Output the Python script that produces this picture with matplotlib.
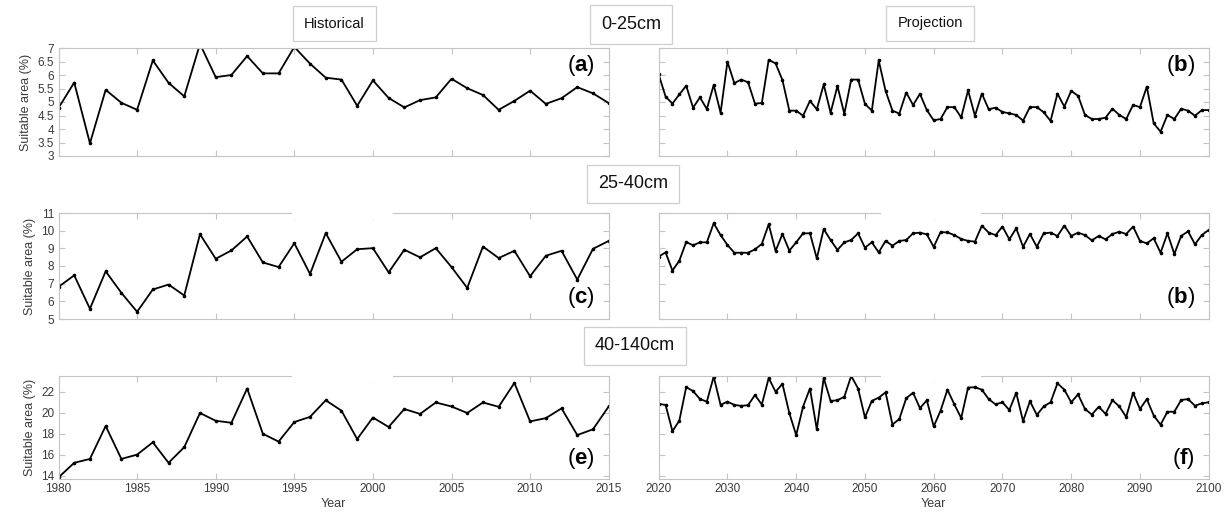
from __future__ import annotations

import matplotlib

matplotlib.use("Agg")
import matplotlib.pyplot as plt
from matplotlib.patches import Rectangle


plt.rcParams["font.family"] = ["Liberation Sans", "DejaVu Sans"]
plt.rcParams["mathtext.fontset"] = "custom"
plt.rcParams["mathtext.rm"] = "Liberation Sans"
plt.rcParams["mathtext.bf"] = "Liberation Sans:bold"

# --- data ----------------------------------------------------------------
hist_years = list(range(1980, 2016))
proj_years = list(range(2020, 2101))

hist_0_25 = [
    4.78, 5.72, 3.47, 5.45, 4.97, 4.71, 6.54, 5.71, 5.21, 7.15,
    5.92, 6.0, 6.7, 6.06, 6.06, 7.04, 6.42, 5.9, 5.83, 4.86,
    5.8, 5.15, 4.8, 5.07, 5.17, 5.86, 5.51, 5.26, 4.71, 5.04,
    5.42, 4.93, 5.14, 5.55, 5.32, 4.96,
]
proj_0_25 = [
    6.02, 5.2, 4.94, 5.28, 5.6, 4.79, 5.17, 4.74, 5.63, 4.6,
    6.49, 5.7, 5.83, 5.73, 4.94, 4.96, 6.56, 6.43, 5.81, 4.68,
    4.68, 4.49, 5.04, 4.73, 5.65, 4.6, 5.59, 4.56, 5.83, 5.83,
    4.93, 4.68, 6.54, 5.41, 4.68, 4.57, 5.35, 4.89, 5.3, 4.7,
    4.32, 4.37, 4.81, 4.81, 4.43, 5.43, 4.49, 5.31, 4.73, 4.79,
    4.63, 4.58, 4.52, 4.31, 4.81, 4.81, 4.62, 4.3, 5.31, 4.83,
    5.41, 5.23, 4.52, 4.37, 4.37, 4.42, 4.75, 4.52, 4.37, 4.89,
    4.81, 5.57, 4.21, 3.9, 4.52, 4.37, 4.75, 4.68, 4.49, 4.7,
    4.7,
]

hist_25_40 = [
    6.82, 7.47, 5.58, 7.7, 6.48, 5.41, 6.67, 6.95, 6.33, 9.8,
    8.41, 8.88, 9.67, 8.2, 7.94, 9.29, 7.55, 9.86, 8.24, 8.95,
    9.01, 7.64, 8.92, 8.49, 9.01, 7.94, 6.76, 9.1, 8.45, 8.86,
    7.42, 8.58, 8.86, 7.23, 8.97, 9.42,
]
proj_25_40 = [
    8.53, 8.77, 7.74, 8.3, 9.36, 9.17, 9.34, 9.34, 10.42, 9.75,
    9.19, 8.75, 8.75, 8.75, 8.94, 9.25, 10.36, 8.85, 9.81, 8.87,
    9.34, 9.85, 9.85, 8.43, 10.09, 9.47, 8.91, 9.34, 9.47, 9.85,
    9.04, 9.34, 8.77, 9.42, 9.15, 9.42, 9.47, 9.85, 9.89, 9.79,
    9.08, 9.92, 9.9, 9.75, 9.53, 9.42, 9.38, 10.28, 9.89, 9.75,
    10.23, 9.51, 10.13, 9.09, 9.81, 9.09, 9.85, 9.89, 9.7, 10.28,
    9.7, 9.89, 9.75, 9.45, 9.7, 9.51, 9.81, 9.94, 9.81, 10.23,
    9.42, 9.28, 9.57, 8.75, 9.85, 8.68, 9.7, 9.96, 9.23, 9.75,
    10.04,
]

hist_40_140 = [
    13.85, 15.24, 15.61, 18.74, 15.61, 16.02, 17.19, 15.24, 16.73, 19.98,
    19.24, 19.05, 22.31, 18.0, 17.26, 19.12, 19.61, 21.19, 20.2, 17.5,
    19.55, 18.65, 20.36, 19.89, 20.98, 20.6, 19.98, 20.98, 20.57, 22.84,
    19.18, 19.49, 20.42, 17.88, 18.43, 20.6,
]
proj_40_140 = [
    20.84, 20.75, 18.25, 19.25, 22.44, 22.06, 21.31, 21.06, 23.44, 20.75,
    21.06, 20.75, 20.66, 20.72, 21.69, 20.78, 23.31, 22.0, 22.75, 19.97,
    17.87, 20.59, 22.31, 18.41, 23.31, 21.13, 21.19, 21.53, 23.5, 22.31,
    19.56, 21.13, 21.44, 21.94, 18.88, 19.41, 21.38, 21.91, 20.44, 21.19,
    18.7, 20.2, 22.2, 20.8, 19.5, 22.4, 22.43, 22.2, 21.3, 20.8,
    21.0, 20.26, 21.9, 19.2, 21.1, 19.8, 20.6, 21.0, 22.8, 22.2,
    21.0, 21.75, 20.36, 19.83, 20.57, 19.9, 21.2, 20.6, 19.6, 21.9,
    20.36, 21.3, 19.74, 18.87, 20.1, 20.1, 21.22, 21.3, 20.67, 20.9,
    21.0,
]

depth_labels = ["0-25cm", "25-40cm", "40-140cm"]
panel_letters = [("a", "b"), ("c", "b"), ("e", "f")]
hist_series = [hist_0_25, hist_25_40, hist_40_140]
proj_series = [proj_0_25, proj_25_40, proj_40_140]

y_limits = [(3, 7), (5, 11), (13.7, 23.5)]
y_ticks = [
    [3, 3.5, 4, 4.5, 5, 5.5, 6, 6.5, 7],
    [5, 6, 7, 8, 9, 10, 11],
    [14, 16, 18, 20, 22],
]
y_ticklabels = [
    ["3", "3.5", "4", "4.5", "5", "5.5", "6", "6.5", "7"],
    ["5", "6", "7", "8", "9", "10", "11"],
    ["14", "16", "18", "20", "22"],
]
hist_xticks = [1980, 1985, 1990, 1995, 2000, 2005, 2010, 2015]
proj_xticks = [2020, 2030, 2040, 2050, 2060, 2070, 2080, 2090, 2100]

# --- layout (figure is 1229 x 523 px) --------------------------------------
W, H = 1229, 523
spine_grey = "#c4c4c4"
tick_grey = "#3a3a3a"
box_edge = "#cfcfcf"


def _px(x0, y_top, x1, y_bot):
    return [x0 / W, 1 - y_bot / H, (x1 - x0) / W, (y_bot - y_top) / H]


row_px = [(48, 156), (213, 319), (376, 479)]
left_px = (58.5, 608.7)
right_px = (658.7, 1208.7)


def _style(ax):
    for sp in ax.spines.values():
        sp.set_color(spine_grey)
        sp.set_linewidth(0.8)
    ax.tick_params(
        direction="in", length=4, width=0.8, color=spine_grey,
        top=True, right=True, labelsize=8.5, labelcolor=tick_grey, pad=3,
    )


def _panel_label(ax, letter, upper):
    y = 0.84 if upper else 0.2
    ax.text(
        0.975, y, rf"($\mathbf{{{letter}}}$)", transform=ax.transAxes,
        ha="right", va="center", fontsize=16, color="black",
    )


def _box_label(fig, x, y, text, size, pad):
    fig.text(
        x / W, 1 - y / H, text, ha="center", va="center", fontsize=size,
        color="#111111",
        bbox=dict(boxstyle=f"square,pad={pad}", fc="white", ec=box_edge, lw=0.9),
    )


def main() -> None:
    fig = plt.figure(figsize=(W / 100, H / 100), dpi=100, facecolor="white")

    for r in range(3):
        top, bot = row_px[r]
        ax_h = fig.add_axes(_px(left_px[0], top, left_px[1], bot))
        ax_p = fig.add_axes(_px(right_px[0], top, right_px[1], bot))

        ax_h.plot(hist_years, hist_series[r], color="black", lw=1.3,
                  marker="o", ms=1.6)
        ax_p.plot(proj_years, proj_series[r], color="black", lw=1.3,
                  marker="o", ms=1.6)

        for ax, xt, xl in ((ax_h, hist_xticks, (1980, 2015)),
                           (ax_p, proj_xticks, (2020, 2100))):
            _style(ax)
            ax.set_xlim(*xl)
            ax.set_xticks(xt)
            ax.set_ylim(*y_limits[r])
            ax.set_yticks(y_ticks[r])
            if r < 2:
                ax.set_xticklabels([])
            else:
                ax.set_xlabel("Year", fontsize=9, color=tick_grey, labelpad=2)

        ax_h.set_yticklabels(y_ticklabels[r])
        ax_h.set_ylabel("Suitable area (%)", fontsize=9, color=tick_grey,
                        labelpad=4)
        ax_p.set_yticklabels([])

        upper = r == 0
        _panel_label(ax_h, panel_letters[r][0], upper)
        _panel_label(ax_p, panel_letters[r][1], upper)

        # white patches over the top frame where the pasted title boxes sat
        if r > 0:
            for x0, x1 in ((292, 393), (881, 981)):
                fig.add_artist(Rectangle(
                    (x0 / W, 1 - (top + 6) / H), (x1 - x0) / W, 8 / H,
                    transform=fig.transFigure, facecolor="white",
                    edgecolor="none", zorder=10,
                ))

    _box_label(fig, 334.5, 23.5, "Historical", 10.5, 0.75)
    _box_label(fig, 930, 23.5, "Projection", 10.5, 0.75)
    _box_label(fig, 631, 24.5, depth_labels[0], 13, 0.6)
    _box_label(fig, 633, 184, depth_labels[1], 13, 0.6)
    _box_label(fig, 635, 346, depth_labels[2], 13, 0.6)

    fig.savefig("out.png", dpi=100)
    plt.close(fig)


if __name__ == "__main__":
    main()
